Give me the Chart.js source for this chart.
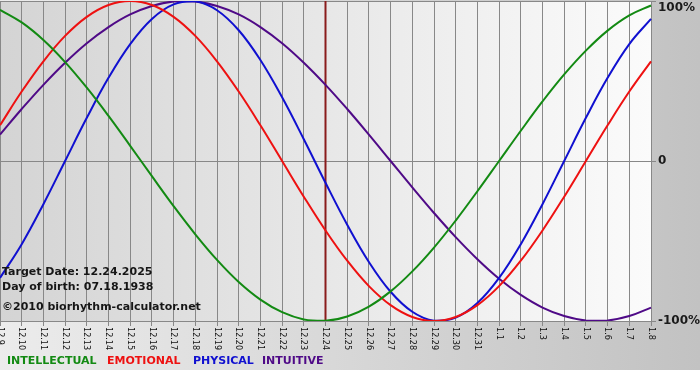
<!DOCTYPE html>
<html>
<head>
<meta charset="utf-8">
<title>Biorhythm</title>
<script src="https://cdn.jsdelivr.net/npm/chart.js@4.4.1/dist/chart.umd.min.js"></script>
<style>
  html, body { margin: 0; padding: 0; background: #fff; }
  canvas { display: block; }
</style>
</head>
<body>
<canvas id="bioChart" width="700" height="370"></canvas>
<script>
// days shown on the x axis
const dayLabels = ['12.9', '12.10', '12.11', '12.12', '12.13', '12.14', '12.15', '12.16', '12.17', '12.18',
  '12.19', '12.20', '12.21', '12.22', '12.23', '12.24', '12.25', '12.26', '12.27', '12.28', '12.29',
  '12.30', '12.31', '1.1', '1.2', '1.3', '1.4', '1.5', '1.6', '1.7', '1.8'];

// cycle values in percent, one per day
const intellectual = [94.5, 86.6, 75.6, 61.8, 45.8, 28.2, 9.5, -9.5, -28.2, -45.8, -61.8, -75.6, -86.6, -94.5, -99.0,
  -99.9, -97.2, -91.0, -81.5, -69.0, -54.1, -37.2, -18.9, 0, 18.9, 37.2, 54.1, 69.0, 81.5, 91.0, 97.2];
const emotional = [22.3, 43.4, 62.3, 78.2, 90.1, 97.5, 100, 97.5, 90.1, 78.2, 62.3, 43.4, 22.3, 0, -22.3,
  -43.4, -62.3, -78.2, -90.1, -97.5, -100, -97.5, -90.1, -78.2, -62.3, -43.4, -22.3, 0, 22.3, 43.4, 62.3];
const physical = [-73.1, -52.0, -27.0, 0, 27.0, 52.0, 73.1, 88.8, 97.9, 99.8, 94.2, 81.7, 63.1, 39.8, 13.6,
  -13.6, -39.8, -63.1, -81.7, -94.2, -99.8, -97.9, -88.8, -73.1, -52.0, -27.0, 0, 27.0, 52.0, 73.1, 88.8];
const intuitive = [16.5, 32.5, 47.6, 61.4, 73.6, 83.7, 91.6, 96.9, 99.7, 99.7, 96.9, 91.6, 83.7, 73.6, 61.4,
  47.6, 32.5, 16.5, 0, -16.5, -32.5, -47.6, -61.4, -73.6, -83.7, -91.6, -96.9, -99.7, -99.7, -96.9, -91.6];

const yTicks = [100, 0, -100];
const yTickText = ['100%', '0', '-100%'];
const targetDay = '12.24';

const legendItems = [
  { text: 'INTELLECTUAL', color: '#138a13', x: 7 },
  { text: 'EMOTIONAL', color: '#ee1111', x: 107 },
  { text: 'PHYSICAL', color: '#1010d0', x: 193 },
  { text: 'INTUITIVE', color: '#4f0a87', x: 262 }
];
const infoLines = ['Target Date: 12.24.2025', 'Day of birth: 07.18.1938', '\u00a92010 biorhythm-calculator.net'];

// backgrounds, target line, labels and legend
const bioPlugin = {
  id: 'bio',
  beforeDraw(chart) {
    const ctx = chart.ctx;
    const a = chart.chartArea;
    ctx.save();
    let g = ctx.createLinearGradient(0, 0, chart.width, 0);
    g.addColorStop(0, '#ececec');
    g.addColorStop(1, '#c2c2c2');
    ctx.fillStyle = g;
    ctx.fillRect(0, 0, chart.width, chart.height);
    g = ctx.createLinearGradient(a.left, 0, a.right, 0);
    g.addColorStop(0, '#d4d4d4');
    g.addColorStop(1, '#fbfbfb');
    ctx.fillStyle = g;
    ctx.fillRect(a.left, a.top, a.right - a.left, a.bottom - a.top);
    ctx.restore();
  },
  beforeDatasetsDraw(chart) {
    const ctx = chart.ctx;
    const a = chart.chartArea;
    const x = chart.scales.x.getPixelForValue(dayLabels.indexOf(targetDay));
    ctx.save();
    ctx.strokeStyle = '#8a1c1c';
    ctx.lineWidth = 2;
    ctx.beginPath();
    ctx.moveTo(x, a.top);
    ctx.lineTo(x, a.bottom);
    ctx.stroke();
    ctx.restore();
  },
  afterDatasetsDraw(chart) {
    const ctx = chart.ctx;
    const a = chart.chartArea;
    const xs = chart.scales.x;
    const ys = chart.scales.y;
    ctx.save();

    // info text
    ctx.font = 'bold 11px "DejaVu Sans"';
    ctx.fillStyle = '#161616';
    ctx.textBaseline = 'middle';
    ctx.textAlign = 'left';
    ctx.fillText(infoLines[0], 2, 272);
    ctx.fillText(infoLines[1], 2, 287);
    ctx.fillText(infoLines[2], 2, 307);

    // x labels, rotated clockwise
    ctx.font = '9px "DejaVu Sans Condensed", "Liberation Sans"';
    ctx.fillStyle = '#111';
    dayLabels.forEach((lbl, i) => {
      const x = xs.getPixelForTick(i);
      ctx.save();
      ctx.translate(x, a.bottom + 6);
      ctx.rotate(Math.PI / 2);
      ctx.textAlign = 'left';
      ctx.textBaseline = 'middle';
      ctx.fillText(lbl, 0, 0);
      ctx.restore();
    });

    // y labels on the right
    ctx.font = 'bold 12px "DejaVu Sans"';
    ctx.fillStyle = '#1a1a1a';
    ctx.textAlign = 'left';
    yTicks.forEach((v, i) => {
      const y = Math.max(ys.getPixelForValue(v), 8);
      ctx.fillText(yTickText[i], a.right + 7, y);
    });

    // legend
    ctx.font = 'bold 11px "DejaVu Sans"';
    legendItems.forEach(it => {
      ctx.fillStyle = it.color;
      ctx.fillText(it.text, it.x, 361);
    });
    ctx.restore();
  }
};

const line = (data, color) => ({
  data: data,
  borderColor: color,
  borderWidth: 2,
  pointRadius: 0,
  tension: 0.4,
  fill: false
});

new Chart(document.getElementById('bioChart'), {
  type: 'line',
  data: {
    labels: dayLabels,
    datasets: [
      line(intellectual, '#138a13'),
      line(emotional, '#ee1111'),
      line(physical, '#1010d0'),
      line(intuitive, '#4f0a87')
    ]
  },
  options: {
    responsive: false,
    animation: false,
    layout: { padding: { top: 1, left: 0, right: 0, bottom: 0 } },
    plugins: {
      legend: { display: false },
      tooltip: { enabled: false }
    },
    scales: {
      x: {
        offset: false,
        ticks: { display: false },
        grid: { color: '#888', tickLength: 5, lineWidth: 1 },
        border: { color: '#888' },
        afterFit(s) { s.height = 49; }
      },
      y: {
        position: 'right',
        min: -100,
        max: 100,
        ticks: { display: false, stepSize: 100 },
        grid: { color: '#888', tickLength: 5 },
        border: { color: '#888' },
        afterFit(s) { s.width = 49; }
      }
    }
  },
  plugins: [bioPlugin]
});
</script>
</body>
</html>
